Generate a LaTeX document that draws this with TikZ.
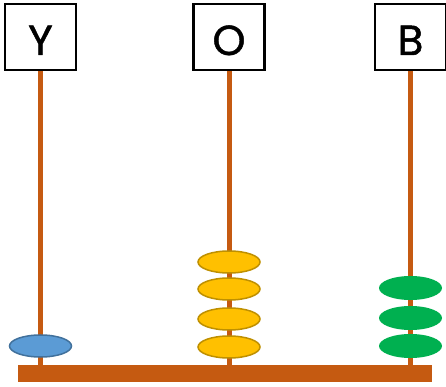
\documentclass[tikz,border=0pt]{standalone}
\usepackage{fontspec}
\setmainfont{Poppins}
\usepackage{tikz}
\usetikzlibrary{shapes.geometric}
\definecolor{rodbrown}{HTML}{C55A11}
\definecolor{beadblue}{HTML}{5B9BD5}
\definecolor{beadblueline}{HTML}{41719C}
\definecolor{beadgold}{HTML}{FFC000}
\definecolor{beadgoldline}{HTML}{BF9000}
\definecolor{beadgreen}{HTML}{00B050}

\begin{document}
\begin{tikzpicture}[x=1pt, y=1pt,
    label box/.style={draw=black, line width=2.5pt, fill=white, minimum width=71pt, minimum height=66pt, inner sep=0pt, text height=36pt, text depth=0pt, font=\fontsize{42}{42}\selectfont\addfontfeatures{FakeBold=1.2}},
    rod/.style={rodbrown, line width=5pt},
    bead/.style={ellipse, minimum width=62pt, minimum height=22pt, inner sep=0pt},
    blue bead/.style={bead, fill=beadblue, draw=beadblueline, line width=1.5pt},
    gold bead/.style={bead, fill=beadgold, draw=beadgoldline, line width=1.5pt},
    green bead/.style={bead, fill=beadgreen, minimum width=63pt, minimum height=24pt}]
      \clip (0, 0) rectangle (446, 387);
      \useasboundingbox (0, 0) rectangle (446, 387);
      \fill[white] (0, 0) rectangle (446, 387);
      % base
      \node[fill=rodbrown, minimum width=414pt, minimum height=17pt, inner sep=0pt] (base) at (225, 13.5) {};
      % labels
      \node[label box] (y) at (40.5, 350) {Y};
      \node[label box] (o) at (229, 350) {O};
      \node[label box] (b) at (410.5, 350) {B};
      % rods
      \draw[rod] (y.south) -- (y.south |- base.north);
      \draw[rod] (o.south) -- (o.south |- base.north);
      \draw[rod] (b.south) -- (b.south |- base.north);
      % beads
      \node[blue bead] (y1) at (40.5, 41) {};
      \node[gold bead] (o1) at (229, 40) {};
      \node[gold bead] (o2) at (229, 68) {};
      \node[gold bead] (o3) at (229, 98) {};
      \node[gold bead] (o4) at (229, 125) {};
      \node[green bead] (b1) at (410.5, 41) {};
      \node[green bead] (b2) at (410.5, 69) {};
      \node[green bead] (b3) at (410.5, 99) {};
    \end{tikzpicture}
\end{document}
